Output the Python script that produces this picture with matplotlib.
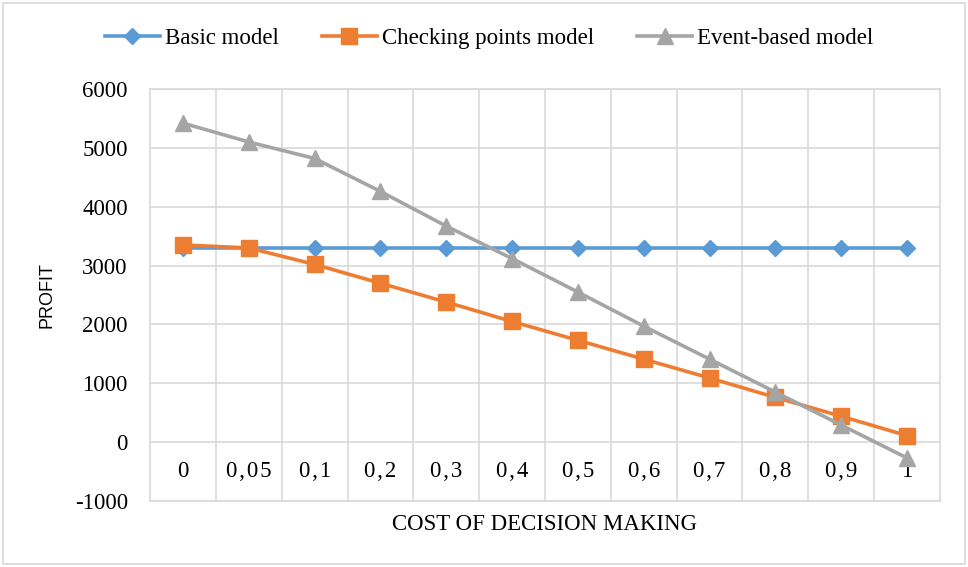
import matplotlib
matplotlib.use("Agg")
import matplotlib.pyplot as plt
from matplotlib.patches import Rectangle

categories = ["0", "0,05", "0,1", "0,2", "0,3", "0,4", "0,5", "0,6", "0,7", "0,8", "0,9", "1"]
basic = [3300, 3300, 3300, 3300, 3300, 3300, 3300, 3300, 3300, 3300, 3300, 3300]
checking = [3350, 3300, 3020, 2700, 2380, 2050, 1730, 1410, 1090, 760, 440, 110]
event = [5420, 5100, 4820, 4260, 3670, 3120, 2550, 1970, 1410, 850, 290, -270]
yticks = [-1000, 0, 1000, 2000, 3000, 4000, 5000, 6000]

serif = "Liberation Serif"
sans = "Liberation Sans"
grid_c = "#D9D9D9"

fig = plt.figure(figsize=(9.68, 5.67), dpi=100)
fig.patches.append(Rectangle((0.003, 0.005), 0.994, 0.99, transform=fig.transFigure,
                             fill=False, edgecolor=grid_c, linewidth=1.2))
ax = fig.add_axes([150/968, 1-501/567, 790/968, 412/567])

x = list(range(len(categories)))
l1, = ax.plot(x, basic, color="#5B9BD5", lw=2.6, marker="D", ms=8.5, label="Basic model", zorder=3)
l2, = ax.plot(x, checking, color="#ED7D31", lw=2.6, marker="s", ms=11.5, label="Checking points model", zorder=4)
l3, = ax.plot(x, event, color="#A5A5A5", lw=2.6, marker="^", ms=12, label="Event-based model", zorder=5)

ax.set_xlim(-0.5, len(categories) - 0.5)
ax.set_ylim(-1000, 6000)
ax.set_yticks(yticks)
ax.set_yticklabels([str(v) for v in yticks], fontfamily=serif, fontsize=16.5)
ax.tick_params(axis="y", length=0, pad=16)
ax.set_xticks([i + 0.5 for i in range(len(categories) - 1)])
ax.set_xticklabels([])
ax.tick_params(axis="x", length=0)
ax.grid(True, color=grid_c, lw=1.2)
ax.set_axisbelow(True)
for s in ax.spines.values():
    s.set_color(grid_c)
    s.set_linewidth(1.2)

hair = "\u200a"
for i, c in enumerate(categories):
    ax.text(i, -500, hair.join(c), ha="center", va="center", fontfamily=serif, fontsize=16.5)

ax.set_xlabel("COST OF DECISION MAKING", fontfamily=serif, fontsize=16.5, labelpad=6)
ax.set_ylabel("PROFIT", fontfamily=sans, fontsize=13, labelpad=14)

leg = fig.legend(handles=[l1, l2, l3], loc="center", bbox_to_anchor=(489/968, 1-38/567), ncol=3,
                 frameon=False, prop={"family": serif, "size": 16.5}, handlelength=2.4,
                 handletextpad=0.2, columnspacing=1.9)

fig.savefig("out.png", dpi=100)
